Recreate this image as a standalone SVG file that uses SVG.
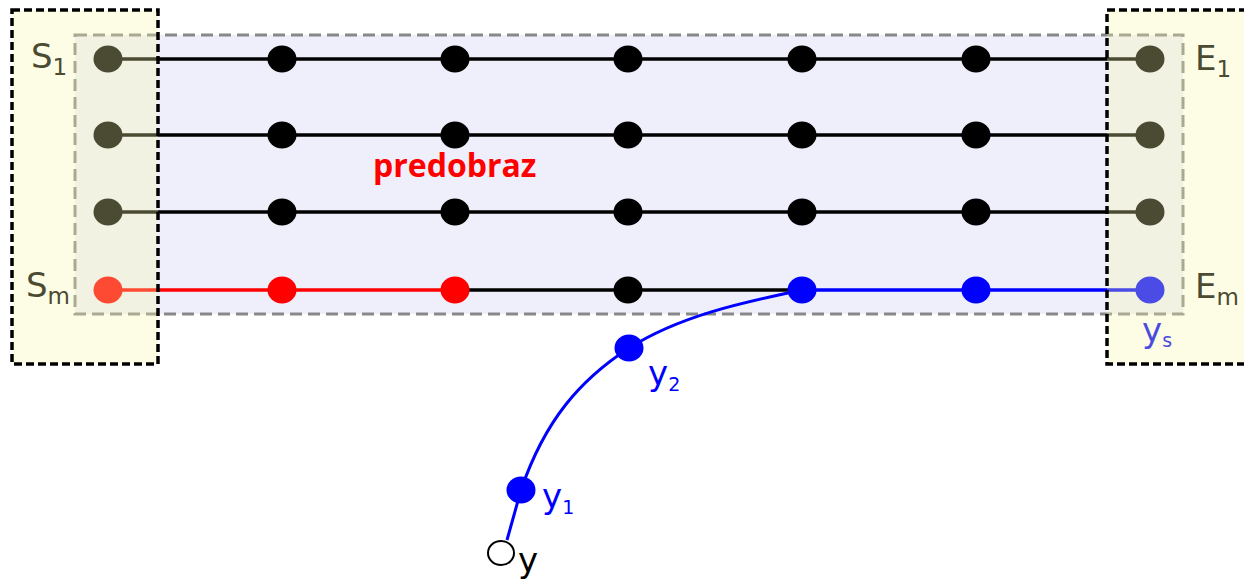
<svg xmlns="http://www.w3.org/2000/svg" width="1244" height="580" viewBox="0 0 1244 580">
<style>
.lbl{font-family:"DejaVu Sans",sans-serif;fill:#4b4a33;font-size:34px}
.sub{font-size:23px}
.yl{font-family:"DejaVu Sans",sans-serif;fill:#0000ff;font-size:34px}
.ysub{font-size:19px}
.n{fill:#000}
.ln{stroke:#000;stroke-width:3.5;fill:none}
.set{fill:#faf8aa;fill-opacity:0.3}
.setb{fill:none;stroke:#000;stroke-width:3.5;stroke-dasharray:8,4}
</style>
<rect width="1244" height="580" fill="#fff"/>
<g id="region">
<rect x="75" y="35" width="1108" height="279" fill="#efeffc" stroke="#888" stroke-width="3" stroke-dasharray="12,6"/>
</g>
<g id="connectors">
<line class="ln" x1="108" y1="59" x2="1150" y2="59"/>
<line class="ln" x1="108" y1="135" x2="1150" y2="135"/>
<line class="ln" x1="108" y1="212" x2="1150" y2="212"/>
<line class="ln" x1="455" y1="290" x2="802" y2="290"/>
<line x1="108" y1="290" x2="455" y2="290" stroke="#ff0000" stroke-width="3.5"/>
<line x1="802" y1="290" x2="1150" y2="290" stroke="#0000ff" stroke-width="3.5"/>
<path d="M507 540 L521 490 C545 420 580 380 629 348 C680 316 740 303 802 290" fill="none" stroke="#0000ff" stroke-width="3"/>
</g>
<g id="nodes">
<g id="r1"><ellipse class="n" cx="108" cy="59" rx="14.5" ry="13.5"/><ellipse class="n" cx="282" cy="59" rx="14.5" ry="13.5"/><ellipse class="n" cx="455" cy="59" rx="14.5" ry="13.5"/><ellipse class="n" cx="628" cy="59" rx="14.5" ry="13.5"/><ellipse class="n" cx="802" cy="59" rx="14.5" ry="13.5"/><ellipse class="n" cx="976" cy="59" rx="14.5" ry="13.5"/><ellipse class="n" cx="1150" cy="59" rx="14.5" ry="13.5"/></g>
<g id="r2"><ellipse class="n" cx="108" cy="135" rx="14.5" ry="13.5"/><ellipse class="n" cx="282" cy="135" rx="14.5" ry="13.5"/><ellipse class="n" cx="455" cy="135" rx="14.5" ry="13.5"/><ellipse class="n" cx="628" cy="135" rx="14.5" ry="13.5"/><ellipse class="n" cx="802" cy="135" rx="14.5" ry="13.5"/><ellipse class="n" cx="976" cy="135" rx="14.5" ry="13.5"/><ellipse class="n" cx="1150" cy="135" rx="14.5" ry="13.5"/></g>
<g id="r3"><ellipse class="n" cx="108" cy="212" rx="14.5" ry="13.5"/><ellipse class="n" cx="282" cy="212" rx="14.5" ry="13.5"/><ellipse class="n" cx="455" cy="212" rx="14.5" ry="13.5"/><ellipse class="n" cx="628" cy="212" rx="14.5" ry="13.5"/><ellipse class="n" cx="802" cy="212" rx="14.5" ry="13.5"/><ellipse class="n" cx="976" cy="212" rx="14.5" ry="13.5"/><ellipse class="n" cx="1150" cy="212" rx="14.5" ry="13.5"/></g>
<g id="r4"><ellipse fill="#ff0000" cx="108" cy="290" rx="14.5" ry="13.5"/><ellipse fill="#ff0000" cx="282" cy="290" rx="14.5" ry="13.5"/><ellipse fill="#ff0000" cx="455" cy="290" rx="14.5" ry="13.5"/><ellipse class="n" cx="628" cy="290" rx="14.5" ry="13.5"/><ellipse fill="#0000ff" cx="802" cy="290" rx="14.5" ry="13.5"/><ellipse fill="#0000ff" cx="976" cy="290" rx="14.5" ry="13.5"/><ellipse fill="#0000ff" cx="1150" cy="290" rx="14.5" ry="13.5"/></g>
<g id="y2"><ellipse fill="#0000ff" cx="629" cy="348" rx="14.5" ry="13.5"/></g>
<g id="y1"><ellipse fill="#0000ff" cx="521" cy="490" rx="14.5" ry="13.5"/></g>
<g id="y"><ellipse fill="#fff" stroke="#000" stroke-width="2" cx="501" cy="553" rx="13" ry="12"/></g>
</g>
<g id="sets">
<rect class="set" x="12" y="10" width="146" height="354"/>
<rect class="set" x="1107" y="10" width="150" height="354"/>
<rect class="setb" x="12" y="10" width="146" height="354"/>
<rect class="setb" x="1107" y="10" width="150" height="354"/>
</g>
<g id="labels">
<text class="lbl" x="31" y="68">S<tspan class="sub" dy="7">1</tspan></text>
<text class="lbl" x="26" y="297">S<tspan class="sub" dy="7">m</tspan></text>
<text class="lbl" x="1195" y="70">E<tspan class="sub" dy="7">1</tspan></text>
<text class="lbl" x="1195" y="298">E<tspan class="sub" dy="7">m</tspan></text>
<text class="yl" x="1142" y="342" style="fill:#4b4bdf">y<tspan class="ysub" dy="5">s</tspan></text>
<text class="yl" x="648" y="385">y<tspan class="ysub" dy="6">2</tspan></text>
<text class="yl" x="542" y="508">y<tspan class="ysub" dy="6">1</tspan></text>
<text class="yl" x="518" y="572" style="fill:#000">y</text>
<text x="373" y="177" font-family="'Open Sans',sans-serif" font-weight="bold" font-size="32" fill="#ff0000">predobraz</text>
</g>
</svg>
